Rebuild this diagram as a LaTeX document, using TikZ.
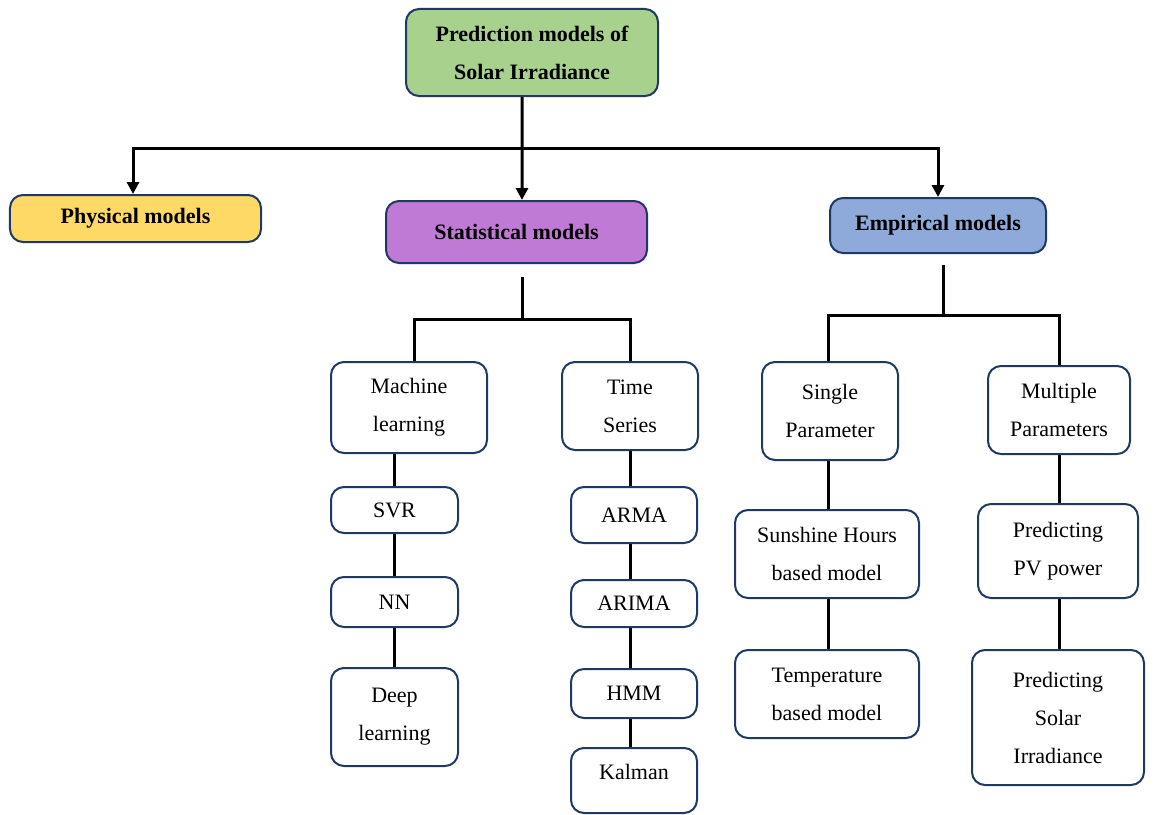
\documentclass[tikz,border=0pt]{standalone}
\usepackage{fontspec}
\setmainfont{Liberation Serif}
\usetikzlibrary{arrows.meta}
\definecolor{edge}{HTML}{1F3864}
\definecolor{rootfill}{HTML}{A9D18E}
\definecolor{physfill}{HTML}{FFD966}
\definecolor{statfill}{HTML}{BF7AD6}
\definecolor{empfill}{HTML}{8EAADB}
\tikzset{
  box/.style={draw=edge, line width=2bp, rounded corners=13bp, align=center,
    inner sep=0pt, font=\fontsize{22bp}{38bp}\selectfont},
  head/.style={box, font=\fontsize{22bp}{38bp}\selectfont\bfseries},
  wire/.style={draw=black, line width=3bp},
  arrowwire/.style={wire, -{Triangle[length=12bp,width=12bp]}},
}
\begin{document}
\begin{tikzpicture}[x=1bp,y=-1bp]
\useasboundingbox (0,0) rectangle (1155,815);
% top level
\node[head, fill=rootfill, minimum width=252bp, minimum height=87bp] (root) at (532,52.5) {Prediction models of\\Solar Irradiance};
\node[head, fill=physfill, minimum width=251bp, minimum height=47bp] (phys) at (135.5,218.5) {Physical models};
\node[head, fill=statfill, minimum width=261bp, minimum height=62bp] (stat) at (516.5,232) {Statistical models};
\node[head, fill=empfill, minimum width=216bp, minimum height=55bp] (emp) at (938,225.5) {Empirical models};
% statistical branch
\node[box, minimum width=156bp, minimum height=91bp] (ml) at (409,407.5) {Machine\\learning};
\node[box, minimum width=136bp, minimum height=88bp] (ts) at (630,406) {Time\\Series};
\node[box, minimum width=127bp, minimum height=46bp] (svr) at (394.5,510) {SVR};
\node[box, minimum width=127bp, minimum height=50bp] (nn) at (394.5,602) {NN};
\node[box, minimum width=127bp, minimum height=98bp] (dl) at (394.5,717) {Deep\\learning};
\node[box, minimum width=126bp, minimum height=56bp] (arma) at (634,515) {ARMA};
\node[box, minimum width=126bp, minimum height=47bp] (arima) at (634,603.5) {ARIMA};
\node[box, minimum width=126bp, minimum height=49bp] (hmm) at (634,693.5) {HMM};
\node[box, minimum width=126bp, minimum height=65bp, text height=32bp, text depth=33bp] (kal) at (634,780.5) {\raisebox{1bp}{Kalman}};
% empirical branch
\node[box, minimum width=136bp, minimum height=98bp] (sp) at (830,411) {Single\\Parameter};
\node[box, minimum width=142bp, minimum height=88bp] (mp) at (1059,410) {Multiple\\Parameters};
\node[box, minimum width=184bp, minimum height=88bp] (sun) at (827,554) {Sunshine Hours\\based model};
\node[box, minimum width=184bp, minimum height=88bp] (tmp) at (827,694) {Temperature\\based model};
\node[box, minimum width=160bp, minimum height=94bp] (pv) at (1058,551) {Predicting\\PV power};
\node[box, minimum width=172bp, minimum height=135bp] (psi) at (1058,717.5) {Predicting\\Solar\\Irradiance};
% root fan-out
\coordinate (rj) at (522,148);
\draw[wire] ([xshift=-10bp]root.south) -- (rj);
\draw[arrowwire] (rj) -| ([xshift=-2.5bp]phys.north);
\draw[arrowwire] (rj) -| (emp.north);
\draw[arrowwire] (rj) -- ([xshift=5.5bp]stat.north);
% statistical fan-out
\coordinate (sb) at (522,277);
\coordinate (sj) at (522,319);
\draw[wire] (sb) -- (sj);
\draw[wire] ([xshift=5bp]ml.north) |- (sj) -| (ts.north);
\draw[wire] (ml.south -| svr.north) -- (svr.north);
\draw[wire] (svr.south) -- (nn.north);
\draw[wire] (nn.south) -- (dl.north);
\draw[wire] (ts.south) -- (ts.south |- arma.north);
\draw[wire] (arma.south -| ts.south) -- (arima.north -| ts.south);
\draw[wire] (arima.south -| ts.south) -- (hmm.north -| ts.south);
\draw[wire] (hmm.south -| ts.south) -- (kal.north -| ts.south);
% empirical fan-out
\coordinate (eb) at (943,265);
\coordinate (ej) at (943,315);
\draw[wire] (eb) -- (ej);
\draw[wire] ([xshift=-2bp]sp.north) |- (ej) -| (mp.north);
\draw[wire] (sp.south -| 828,0) -- (sun.north -| 828,0);
\draw[wire] (sun.south -| 828,0) -- (tmp.north -| 828,0);
\draw[wire] (mp.south) -- (mp.south |- pv.north);
\draw[wire] (pv.south -| mp.south) -- (psi.north -| mp.south);
\end{tikzpicture}
\end{document}
